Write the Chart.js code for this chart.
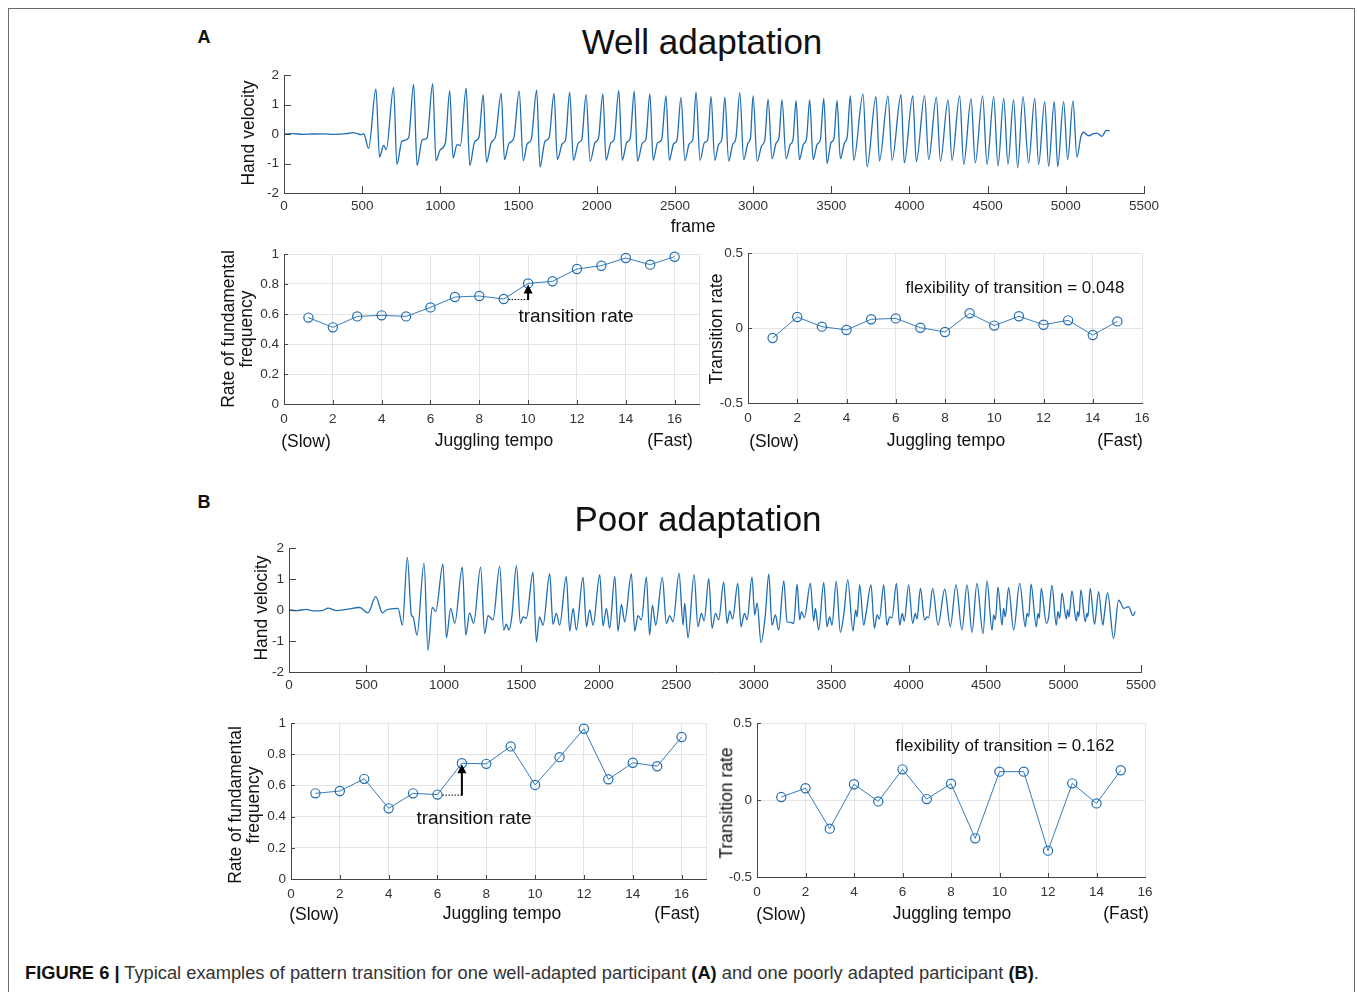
<!DOCTYPE html>
<html>
<head>
<meta charset="utf-8">
<script src="https://cdn.jsdelivr.net/npm/chart.js@4.4.0/dist/chart.umd.min.js"></script>
<style>
html,body{margin:0;padding:0;background:#fff;}
#page{position:relative;width:1357px;height:992px;overflow:hidden;font-family:"Liberation Sans",Arial,Helvetica,sans-serif;color:#111;background:#fff;}
.frame{position:absolute;left:8px;top:8px;width:1347px;height:1010px;border:1px solid #6a6a6a;box-sizing:border-box;}
canvas{position:absolute;}
.t{position:absolute;white-space:nowrap;transform:translate(-50%,-50%);line-height:1;z-index:5;}
.rot{transform:translate(-50%,-50%) rotate(-90deg);text-align:center;}
.cap{position:absolute;left:25px;top:964px;font-size:18.3px;color:#333;white-space:nowrap;line-height:1;}
.cap b{color:#111;}
</style>
</head>
<body>
<div id="page">
  <div class="frame"></div>

  <div class="t" style="left:204px;top:37px;font-size:18px;font-weight:bold;">A</div>
  <div class="t" style="left:702px;top:41px;font-size:35px;">Well adaptation</div>
  <div class="t rot" style="left:249px;top:133px;font-size:17.5px;">Hand velocity</div>
  <div class="t" style="left:693px;top:227px;font-size:17.5px;">frame</div>

  <div class="t rot" style="left:237px;top:329px;font-size:17.5px;line-height:1.05;">Rate of fundamental<br>frequency</div>
  <div class="t" style="left:306px;top:442px;font-size:17.5px;">(Slow)</div>
  <div class="t" style="left:494px;top:441px;font-size:17.5px;">Juggling tempo</div>
  <div class="t" style="left:670px;top:441px;font-size:17.5px;">(Fast)</div>
  <div class="t" style="left:576px;top:315px;font-size:19px;">transition rate</div>

  <div class="t rot" style="left:717px;top:329px;font-size:17.5px;">Transition rate</div>
  <div class="t" style="left:774px;top:442px;font-size:17.5px;">(Slow)</div>
  <div class="t" style="left:946px;top:441px;font-size:17.5px;">Juggling tempo</div>
  <div class="t" style="left:1120px;top:441px;font-size:17.5px;">(Fast)</div>
  <div class="t" style="left:1015px;top:287px;font-size:17px;">flexibility of transition = 0.048</div>

  <div class="t" style="left:204px;top:502px;font-size:18px;font-weight:bold;">B</div>
  <div class="t" style="left:698px;top:518px;font-size:35px;">Poor adaptation</div>
  <div class="t rot" style="left:262px;top:608px;font-size:17.5px;">Hand velocity</div>

  <div class="t rot" style="left:244px;top:805px;font-size:17.5px;line-height:1.05;">Rate of fundamental<br>frequency</div>
  <div class="t" style="left:314px;top:915px;font-size:17.5px;">(Slow)</div>
  <div class="t" style="left:502px;top:914px;font-size:17.5px;">Juggling tempo</div>
  <div class="t" style="left:677px;top:914px;font-size:17.5px;">(Fast)</div>
  <div class="t" style="left:474px;top:817px;font-size:19px;">transition rate</div>

  <div class="t rot" style="left:727px;top:803px;font-size:17.5px;">Transition rate</div>
  <div class="t" style="left:781px;top:915px;font-size:17.5px;">(Slow)</div>
  <div class="t" style="left:952px;top:914px;font-size:17.5px;">Juggling tempo</div>
  <div class="t" style="left:1126px;top:914px;font-size:17.5px;">(Fast)</div>
  <div class="t" style="left:1005px;top:745px;font-size:17px;">flexibility of transition = 0.162</div>

  <div class="cap"><b>FIGURE 6 |</b> Typical examples of pattern transition for one well-adapted participant <b>(A)</b> and one poorly adapted participant <b>(B)</b>.</div>
</div>

<script>
// ---------------- DATA ----------------
// Hand velocity traces (key points: frame, value)
const velFramesA = [0,60,120,180,250,320,400,440,470,490,510,541,
  588,611,637,654, 701,722,754,797, 829,851,883,915, 951,972,1000,1032,
  1060,1081,1107,1128, 1165,1188,1220,1246, 1274,1295,1325,1353, 1389,1410,1438,1470,
  1504,1530,1556,1581, 1616,1637,1669,1695, 1727,1748,1780,1801, 1827,1851,1883,1904,
  1932,1958,1990,2011, 2039,2060,2090,2111, 2141,2163,2193,2214, 2240,2261,2293,2314,
  2340,2361,2389,2415, 2443,2464,2492,2513, 2539,2564,2592,2614, 2635,2661,2688,2710,
  2731,2755,2780,2800, 2819,2844,2870,2890, 2915,2940,2968,2983, 3000,3026,3055,3075,
  3096,3121,3148,3165, 3185,3211,3238,3255, 3275,3296,3322,3342, 3362,3384,3410,3430,
  3452,3473,3498,3517, 3537,3558,3585,3602,
  3622,3644, 3703,3729, 3786,3808, 3863,3889, 3946,3967, 4021,4044, 4097,4123, 4172,4198,
  4247,4272, 4321,4347, 4394,4421, 4468,4496, 4539,4566, 4603,4630, 4666,4692, 4726,4762,
  4801,4826, 4865,4890, 4926,4948, 4986,5012,
  5046,5071,5097,5114,5146,5178,5199,5231,5259,5280];
const velValuesA = [0,0.01,-0.01,0,0.005,-0.01,0.01,0.05,0.01,-0.02,0,-0.49,
  1.53,-0.78,-0.39,-0.53, 1.58,-1.03,-0.25,-0.13, 1.69,-1.07,-0.21,-0.13, 1.71,-0.90,-0.53,-0.30,
  1.47,-0.81,-0.36,-0.39, 1.55,-1.07,-0.25,-0.13, 1.33,-0.96,-0.30,-0.08, 1.38,-0.87,-0.33,-0.13,
  1.46,-0.90,-0.33,-0.19, 1.49,-1.12,-0.25,-0.13, 1.38,-0.87,-0.33,-0.19, 1.42,-0.89,-0.30,-0.19,
  1.33,-0.92,-0.28,-0.15, 1.36,-0.89,-0.30,-0.19, 1.47,-0.89,-0.28,-0.15, 1.45,-0.92,-0.30,-0.19,
  1.36,-0.89,-0.30,-0.19, 1.29,-0.89,-0.33,-0.21, 1.24,-0.90,-0.33,-0.19, 1.42,-0.89,-0.30,-0.19,
  1.27,-0.89,-0.35,-0.18, 1.25,-0.92,-0.35,-0.15, 1.40,-0.87,-0.30,-0.15, 1.29,-0.92,-0.40,-0.20,
  1.18,-0.84,-0.30,-0.15, 1.16,-0.84,-0.35,-0.20, 1.13,-0.87,-0.35,-0.15, 1.16,-0.87,-0.35,-0.20,
  1.21,-1.00,-0.30,-0.15, 1.13,-0.84,-0.30,-0.10,
  1.29,-0.89, 1.35,-1.11, 1.27,-0.92, 1.29,-0.89, 1.33,-0.98, 1.29,-0.94, 1.30,-0.87, 1.25,-0.92,
  1.16,-0.89, 1.29,-1.03, 1.19,-0.98, 1.29,-1.03, 1.27,-1.09, 1.21,-1.03, 1.16,-1.15, 1.27,-0.98,
  1.21,-1.03, 1.10,-1.09, 1.10,-1.11, 1.10,-0.87,
  1.12,-0.78,-0.08,0.06,-0.06,0.01,0.03,-0.08,0.12,0.11];

const velFramesB = [0,47,112,155,220,252,306,370,456,510,560,603,628,704,732,
  764,790,801,826, 872,897,925,947, 994,1016,1044,1070, 1119,1141,1166,1192,
  1237,1263,1285,1317, 1360,1386,1403,1420,1440, 1468,1494,1511,1532, 1575,1597,1618,1640,
  1683,1704,1726,1747, 1790,1812,1834,1855, 1898,1920,1941,1963, 2006,2027,2049,2070,
  2103,2124,2146,2167, 2210,2232,2253,2275, 2307,2328,2346,2367, 2410,2436,2458,2479,
  2518,2544,2554,2576, 2615,2640,2662,2680, 2710,2731,2753,2774, 2806,2828,2845,2864,
  2897,2918,2940,2957, 2989,3006,3022,3047,3075, 3097,3118,3140,3161, 3194,3215,3237,3258,
  3280,3297,3308,3327, 3366,3387,3398,3419, 3452,3473,3490,3505, 3533,3559,3581,
  3607,3641,3658,3667, 3684,3710,3725, 3757,3779,3796,3811, 3839,3860,3878,3893,
  3921,3942,3959,3972, 4000,4026,4043,4054, 4076,4103,4119,4129, 4155,4190, 4233,4269,
  4306,4344, 4377,4409, 4441,4480, 4506,4538,4549,4560, 4577,4603,4613,4624, 4645,4678,
  4717,4753,4764,4775, 4790,4824,4835,4843, 4856,4889,4904, 4925,4953,4964,4975,
  4990,5018,5026,5035, 5054,5082,5091,5099, 5112,5140,5151,5157, 5172,5200,5209,
  5226,5254,5263, 5284,5323, 5355,5370,5388,5420,5448,5463];
const velValuesB = [0,-0.02,0.02,-0.03,-0.01,0.06,-0.02,0.02,0.08,-0.09,0.43,-0.09,0,0.05,-0.49,
  1.70,-0.16,-0.22,-0.81, 1.51,-1.30,0.08,-0.05, 1.48,-0.90,0.05,-0.43, 1.38,-0.81,-0.09,-0.43,
  1.38,-0.76,-0.18,-0.32, 1.41,-0.65,-0.46,-0.65,-0.14, 1.43,-0.43,-0.22,-0.27, 1.21,-1.03,-0.22,-0.49,
  1.17,-0.46,-0.11,-0.49, 1.08,-0.68,0.05,-0.65, 1.06,-0.54,0,-0.49, 1.14,-0.51,0.05,-0.59,
  1.08,-0.68,0.18,-0.38, 1.17,-0.68,-0.18,-0.32, 1.06,-0.81,0.16,-0.49, 1.05,-0.43,-0.18,-0.38,
  1.19,-0.49,0.22,-0.90, 1.14,-0.54,-0.11,-0.35, 1.01,-0.59,-0.11,-0.32, 0.90,-0.43,-0.03,-0.29,
  0.86,-0.54,-0.11,-0.32, 1.06,-0.16,0.22,-1.05,-0.16, 1.16,-0.49,-0.16,-0.65, 0.94,-0.38,-0.40,-0.43,
  0.83,-0.32,-0.05,-0.25, 0.86,-0.36,0.05,-0.65, 0.89,-0.54,-0.22,-0.49, 0.92,-0.72,-0.16,
  0.97,-0.68,0,-0.22, 0.81,-0.49,-0.11, 0.81,-0.59,-0.16,-0.29, 0.81,-0.49,-0.22,-0.25,
  0.86,-0.49,-0.11,-0.36, 0.81,-0.43,-0.11,-0.29, 0.70,-0.32,-0.22,-0.25, 0.70,-0.49, 0.67,-0.54,
  0.81,-0.65, 0.81,-0.72, 0.86,-0.76, 0.94,-0.65,-0.16,-0.32, 0.74,-0.49,0.05,-0.22, 0.72,-0.65,
  0.86,-0.54,-0.11,-0.22, 0.83,-0.54,-0.11,-0.27, 0.70,-0.43,-0.22, 0.79,-0.49,-0.05,-0.27,
  0.54,-0.29,0,-0.22, 0.62,-0.36,-0.05,-0.22, 0.65,-0.38,-0.11,-0.22, 0.70,-0.46,-0.16,
  0.59,-0.49,-0.16, 0.56,-0.92, 0.32,0.22,0.05,0.11,-0.18,-0.05];

// Rate of fundamental frequency vs juggling tempo
const tempoA = [1,2,3,4,5,6,7,8,9,10,11,12,13,14,15,16];
const rateA  = [0.576,0.511,0.584,0.591,0.584,0.644,0.713,0.72,0.70,0.804,0.818,0.90,0.922,0.973,0.929,0.982];
const tempoB = [1,2,3,4,5,6,7,8,9,10,11,12,13,14,15,16];
const rateB  = [0.549,0.564,0.642,0.453,0.549,0.541,0.742,0.738,0.85,0.603,0.781,0.963,0.639,0.745,0.723,0.91];

// Transition rate vs juggling tempo
const transTempoA = [1,2,3,4,5,6,7,8,9,10,11,12,13,14,15];
const transRateA  = [-0.067,0.073,0.009,-0.013,0.058,0.064,0.002,-0.027,0.098,0.016,0.078,0.022,0.051,-0.047,0.044];
const transTempoB = [1,2,3,4,5,6,7,8,9,10,11,12,13,14,15];
const transRateB  = [0.019,0.076,-0.186,0.102,-0.009,0.199,0.006,0.106,-0.249,0.184,0.184,-0.329,0.108,-0.022,0.193];

// Tempo at which the highlighted transition occurs
const highlightA = 10;
const highlightB = 7;

// Tick labels
const velXTicks = [0,500,1000,1500,2000,2500,3000,3500,4000,4500,5000,5500];
const velYTicks = [-2,-1,0,1,2];
const rateXTicks = [0,2,4,6,8,10,12,14,16];
const rateXMax = 17;
const rateYTicks = [0,0.2,0.4,0.6,0.8,1];
const transXTicks = [0,2,4,6,8,10,12,14,16];
const transYTicks = [-0.5,0,0.5];

// ---------------- STYLE / HELPERS ----------------
const BLUE = '#1f6db3';
const AXIS = '#454545';
const LABEL = '#333333';
const GRID = '#e4e4e4';
Chart.defaults.font.family = "'Liberation Sans', Arial, Helvetica, sans-serif";
Chart.defaults.font.size = 13.5;
Chart.defaults.color = LABEL;

const pairs = (xs, ys) => xs.map((x, i) => ({x: x, y: ys[i]}));

const inTicks = {
  id: 'inTicks',
  afterDatasetsDraw(chart, args, o) {
    if (!o || !o.len) return;
    const ctx = chart.ctx, a = chart.chartArea;
    const xs = chart.scales.x, ys = chart.scales.y;
    ctx.save();
    ctx.strokeStyle = AXIS; ctx.lineWidth = 1;
    ctx.beginPath();
    xs.ticks.forEach(t => {
      if (o.skip && o.skip.includes(t.value)) return;
      const px = Math.round(xs.getPixelForValue(t.value)) + 0.5;
      ctx.moveTo(px, a.bottom); ctx.lineTo(px, a.bottom - o.len);
    });
    ys.ticks.forEach(t => {
      const py = Math.round(ys.getPixelForValue(t.value)) + 0.5;
      ctx.moveTo(a.left, py); ctx.lineTo(a.left + o.len, py);
    });
    ctx.stroke();
    ctx.restore();
  }
};

const transArrow = {
  id: 'transArrow',
  afterDatasetsDraw(chart, args, o) {
    if (!o || o.at == null) return;
    const d = chart.data.datasets[0].data;
    const i = d.findIndex(p => p.x === o.at);
    if (i < 1) return;
    const p0 = d[i - 1], p1 = d[i];
    const xs = chart.scales.x, ys = chart.scales.y, ctx = chart.ctx;
    const x0 = xs.getPixelForValue(p0.x), x1 = xs.getPixelForValue(p1.x);
    const y0 = ys.getPixelForValue(p0.y), y1 = ys.getPixelForValue(p1.y);
    ctx.save();
    ctx.strokeStyle = '#000';
    ctx.lineWidth = 1;
    ctx.setLineDash([1.5, 1.5]);
    ctx.beginPath(); ctx.moveTo(x0 + 5, y0 + 0.5); ctx.lineTo(x1, y0 + 0.5); ctx.stroke();
    ctx.setLineDash([]);
    const tip = y1 + 1, head = 9;
    ctx.lineWidth = 2;
    ctx.beginPath(); ctx.moveTo(x1, y0 + 1); ctx.lineTo(x1, tip + head - 1); ctx.stroke();
    ctx.fillStyle = '#000';
    ctx.beginPath(); ctx.moveTo(x1, tip); ctx.lineTo(x1 - 4.5, tip + head); ctx.lineTo(x1 + 4.5, tip + head); ctx.closePath(); ctx.fill();
    ctx.restore();
  }
};

const page = document.getElementById('page');

function makeChart(box, cfg) {
  const padL = 70, padT = 14, padR = 36, padB = 34;
  const cv = document.createElement('canvas');
  const w = box.R - box.L + padL + padR, h = box.B - box.T + padT + padB;
  cv.width = w; cv.height = h;
  cv.style.width = w + 'px'; cv.style.height = h + 'px';
  cv.style.left = (box.L - padL) + 'px'; cv.style.top = (box.T - padT) + 'px';
  page.appendChild(cv);
  cfg.options.responsive = false;
  cfg.options.maintainAspectRatio = false;
  cfg.options.animation = false;
  cfg.options.devicePixelRatio = 1;
  cfg.options.layout = {padding: {left: 0, top: padT, right: padR, bottom: 0}};
  cfg.options.scales.x.afterFit = s => { s.height = padB; };
  cfg.options.scales.y.afterFit = s => { s.width = padL; };
  cfg.plugins = [inTicks, transArrow];
  return new Chart(cv, cfg);
}

function fixedTicks(values) {
  return s => { s.ticks = values.map(v => ({value: v})); };
}

function velChart(box, frames, values) {
  return makeChart(box, {
    type: 'line',
    data: {datasets: [{
      data: pairs(frames, values),
      borderColor: BLUE, borderWidth: 1.3, pointRadius: 0,
      cubicInterpolationMode: 'monotone', fill: false
    }]},
    options: {
      plugins: {legend: {display: false}, tooltip: {enabled: false}, inTicks: {len: 7}},
      scales: {
        x: {type: 'linear', min: 0, max: 5500, afterBuildTicks: fixedTicks(velXTicks),
            grid: {color: 'rgba(0,0,0,0)', drawTicks: false},
            border: {display: true, color: AXIS, width: 1},
            ticks: {padding: 5, maxRotation: 0, autoSkip: false, callback: v => String(v)}},
        y: {type: 'linear', min: -2, max: 2, afterBuildTicks: fixedTicks(velYTicks),
            grid: {color: 'rgba(0,0,0,0)', drawTicks: false},
            border: {display: true, color: AXIS, width: 1},
            ticks: {padding: 5, autoSkip: false, callback: v => String(v)}}
      }
    }
  });
}

function dotChart(box, xs, ys, xTicks, xMax, yTicks, yMin, yMax, arrowAt) {
  const allX = xMax > xTicks[xTicks.length - 1] ? xTicks.concat([xMax]) : xTicks;
  return makeChart(box, {
    type: 'line',
    data: {datasets: [{
      data: pairs(xs, ys),
      borderColor: BLUE, borderWidth: 0.9,
      pointRadius: 4.6, pointBorderWidth: 1.2, pointBorderColor: BLUE,
      pointBackgroundColor: 'rgba(0,0,0,0)', pointStyle: 'circle', tension: 0, fill: false,
      clip: 10
    }]},
    options: {
      plugins: {legend: {display: false}, tooltip: {enabled: false},
                inTicks: {len: 4, skip: [xMax]}, transArrow: {at: arrowAt}},
      scales: {
        x: {type: 'linear', min: 0, max: xMax, afterBuildTicks: fixedTicks(allX),
            grid: {color: GRID, drawTicks: false, lineWidth: 1},
            border: {display: true, color: AXIS, width: 1},
            ticks: {padding: 7, maxRotation: 0, autoSkip: false,
                    callback: v => (xTicks.includes(v) ? String(v) : '')}},
        y: {type: 'linear', min: yMin, max: yMax, afterBuildTicks: fixedTicks(yTicks),
            grid: {color: GRID, drawTicks: false, lineWidth: 1},
            border: {display: true, color: AXIS, width: 1},
            ticks: {padding: 5, autoSkip: false, callback: v => String(v)}}
      }
    }
  });
}

// ---------------- CHARTS ----------------
velChart({L: 284, R: 1144, T: 75, B: 193}, velFramesA, velValuesA);
dotChart({L: 284, R: 699, T: 254, B: 404}, tempoA, rateA, rateXTicks, rateXMax, rateYTicks, 0, 1, highlightA);
dotChart({L: 748, R: 1142, T: 253, B: 403}, transTempoA, transRateA, transXTicks, 16, transYTicks, -0.5, 0.5, null);

velChart({L: 289, R: 1141, T: 548, B: 672}, velFramesB, velValuesB);
dotChart({L: 291, R: 706, T: 723, B: 879}, tempoB, rateB, rateXTicks, rateXMax, rateYTicks, 0, 1, highlightB);
dotChart({L: 757, R: 1145, T: 723, B: 877}, transTempoB, transRateB, transXTicks, 16, transYTicks, -0.5, 0.5, null);
</script>
</body>
</html>
